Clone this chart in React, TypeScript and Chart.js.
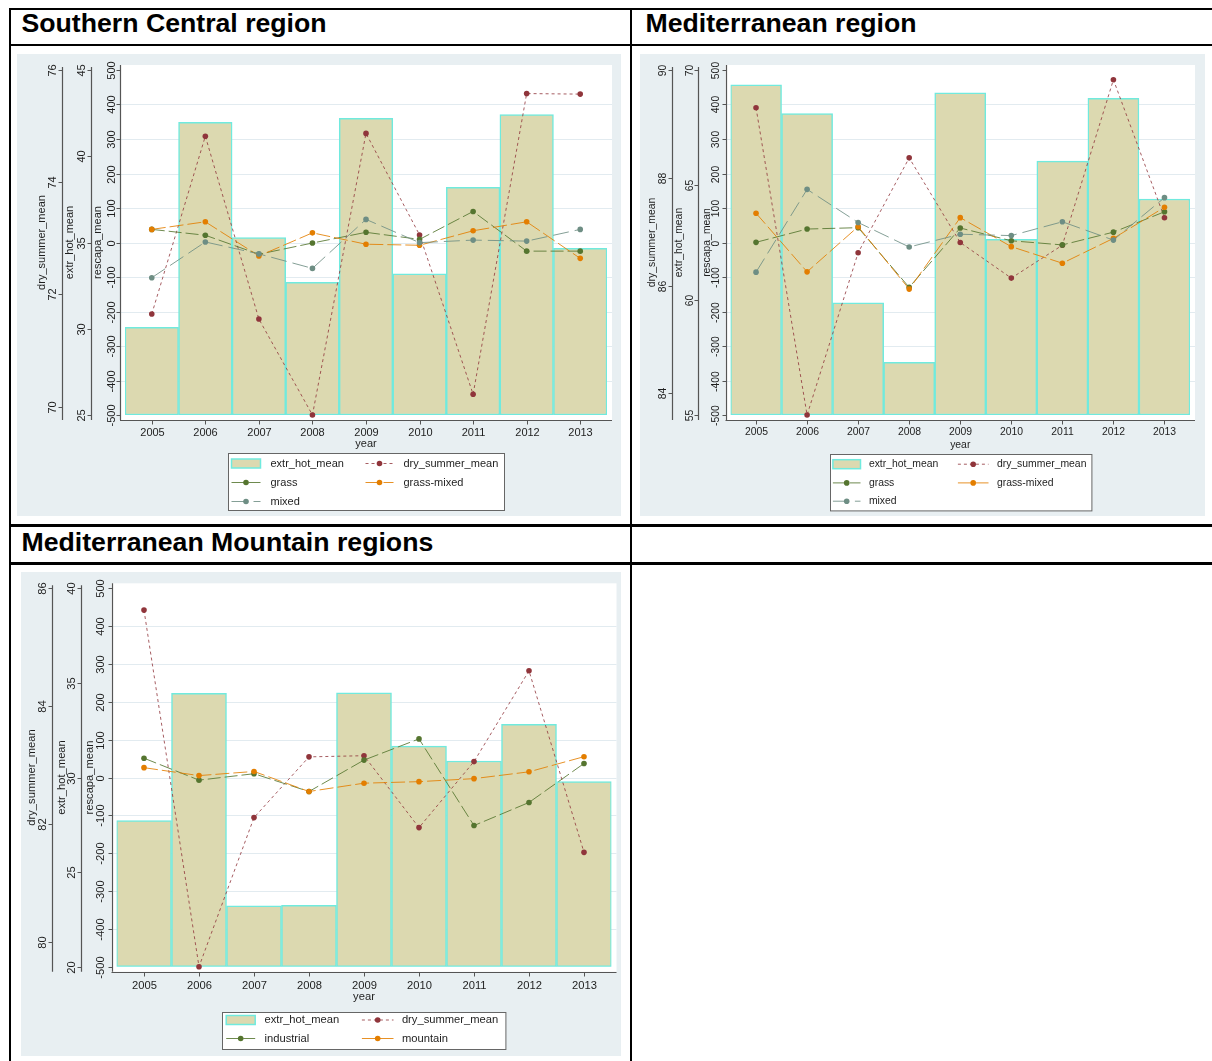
import React, { useEffect, useRef } from "react";
import { Chart, registerables } from "chart.js";

Chart.register(...registerables);

// ---------- data ----------
const years = ["2005", "2006", "2007", "2008", "2009", "2010", "2011", "2012", "2013"];
const rescapaTicks = [-500, -400, -300, -200, -100, 0, 100, 200, 300, 400, 500];
const rescapaGrid = [-400, -300, -200, -100, 0, 100, 200, 300, 400];
const rescapaRange = [-500, 500];

// Southern Central region
const scExtrHot = [30.08, 41.97, 35.28, 32.69, 42.2, 33.19, 38.2, 42.41, 34.66];
const scDrySummer = [71.65, 74.82, 71.56, 69.85, 74.87, 73.06, 70.22, 75.58, 75.57];
const scGrass = [38, 21, -34, -1.5, 29.5, 9, 90, -25, -25];
const scGrassMixed = [38, 60, -39, 28, -5, -8, 34, 60, -46];
const scMixed = [-102, 1.5, -33, -75, 67, -0.5, 7, 4, 38];
const scExtrTicks = [25, 30, 35, 40, 45];
const scDryTicks = [70, 72, 74, 76];
const scExtrRange = [25, 45];
const scDryRange = [69.85, 76];

// Mediterranean region
const medExtrHot = [69.35, 68.1, 59.88, 57.29, 69.01, 62.64, 66.04, 68.77, 64.39];
const medDrySummer = [89.3, 83.6, 86.61, 88.37, 86.8, 86.14, 86.75, 89.82, 87.26];
const medGrass = [0.5, 39, 43, -130, 42, 5, -7, 30, 89];
const medGrassMixed = [85, -85, 46, -135, 72, -12, -60, 12, 102];
const medMixed = [-86, 154, 58, -13, 24, 20, 60, 7, 130];
const medExtrTicks = [55, 60, 65, 70];
const medDryTicks = [84, 86, 88, 90];
const medExtrRange = [55, 70];
const medDryRange = [83.6, 90];

// Mediterranean Mountain regions
const mmExtrHot = [27.72, 34.45, 23.22, 23.25, 34.48, 31.66, 30.87, 32.81, 29.78];
const mmDrySummer = [85.63, 79.58, 82.11, 83.14, 83.16, 81.94, 83.06, 84.6, 81.52];
const mmIndustrial = [51, -7, 10, -37, 46, 102, -127, -66, 37];
const mmMountain = [26, 5, 16, -37, -15, -11, -3, 15, 55];
const mmExtrTicks = [20, 25, 30, 35, 40];
const mmDryTicks = [80, 82, 84, 86];
const mmExtrRange = [20, 40];
const mmDryRange = [79.58, 86];

// ---------- styles ----------
const FONT = '"Liberation Sans", Arial, Helvetica, sans-serif';
const GRAPH_BG = "rgb(232,239,242)";
const GRID = "rgb(226,235,240)";
const AXIS = "#555";
const TEXT = "#1e1e1e";
const BAR_FILL = "rgb(220,217,176)";
const BAR_EDGE = "rgb(112,234,222)";
const C_DRY = "rgb(144,53,59)";
const C_GREEN = "rgb(85,117,47)";
const C_ORANGE = "rgb(227,126,0)";
const C_TEAL = "rgb(110,142,132)";
const DASH_DRY = [3, 3];
const DASH_GREEN = [13, 4];
const DASH_ORANGE = [14, 4];
const DASH_TEAL = [16, 6];

function lineColor(c: string, a: number) {
  return c.replace("rgb(", "rgba(").replace(")", "," + a + ")");
}

type Series = { label: string; data: number[]; color: string; dash: number[]; axis: string; alpha: number };

const panels: any[] = [
  {
    key: "sc",
    font: 11,
    canvas: { left: 17, top: 54, width: 604, height: 462 },
    padding: { left: 108, right: 14, top: 16, bottom: 101 },
    extr: scExtrHot, extrRange: scExtrRange, extrTicks: scExtrTicks,
    dryRange: scDryRange, dryTicks: scDryTicks,
    series: [
      { label: "dry_summer_mean", data: scDrySummer, color: C_DRY, dash: DASH_DRY, axis: "y2", alpha: 0.8 },
      { label: "grass", data: scGrass, color: C_GREEN, dash: DASH_GREEN, axis: "y", alpha: 0.85 },
      { label: "grass-mixed", data: scGrassMixed, color: C_ORANGE, dash: DASH_ORANGE, axis: "y", alpha: 0.85 },
      { label: "mixed", data: scMixed, color: C_TEAL, dash: DASH_TEAL, axis: "y", alpha: 0.85 },
    ] as Series[],
    ax: { dry: [-63.3, -72, -83.3], extr: [-34, -43.3, -55], resc: [-5, -13.3, -26.7] },
    xLabelOff: 17.5, xTitleOff: 29,
    legend: { width: 276, top: 38, height: 57, rows: [10, 29, 48], col1: [3, 32, 42], col2: [137, 165, 175] },
  },
  {
    key: "med",
    font: 10.4,
    canvas: { left: 640, top: 54, width: 565, height: 462 },
    padding: { left: 90.5, right: 15, top: 16, bottom: 101 },
    extr: medExtrHot, extrRange: medExtrRange, extrTicks: medExtrTicks,
    dryRange: medDryRange, dryTicks: medDryTicks,
    series: [
      { label: "dry_summer_mean", data: medDrySummer, color: C_DRY, dash: DASH_DRY, axis: "y2", alpha: 0.8 },
      { label: "grass", data: medGrass, color: C_GREEN, dash: DASH_GREEN, axis: "y", alpha: 0.85 },
      { label: "grass-mixed", data: medGrassMixed, color: C_ORANGE, dash: DASH_ORANGE, axis: "y", alpha: 0.85 },
      { label: "mixed", data: medMixed, color: C_TEAL, dash: DASH_TEAL, axis: "y", alpha: 0.85 },
    ] as Series[],
    ax: { dry: [-58.8, -67.2, -78.8], extr: [-32.2, -40.5, -51.2], resc: [-5, -14.7, -23.8] },
    xLabelOff: 17.5, xTitleOff: 30,
    legend: { width: 261.4, top: 39.3, height: 56.4, rows: [9.7, 28.4, 46.7], col1: [2.4, 30, 38.4], col2: [127.4, 158, 166.4] },
  },
  {
    key: "mm",
    font: 11.2,
    canvas: { left: 21, top: 572, width: 600, height: 484 },
    padding: { left: 95.5, right: 9.5, top: 16.3, bottom: 89.3 },
    extr: mmExtrHot, extrRange: mmExtrRange, extrTicks: mmExtrTicks,
    dryRange: mmDryRange, dryTicks: mmDryTicks,
    series: [
      { label: "dry_summer_mean", data: mmDrySummer, color: C_DRY, dash: DASH_DRY, axis: "y2", alpha: 0.8 },
      { label: "industrial", data: mmIndustrial, color: C_GREEN, dash: DASH_GREEN, axis: "y", alpha: 0.85 },
      { label: "mountain", data: mmMountain, color: C_ORANGE, dash: DASH_ORANGE, axis: "y", alpha: 0.85 },
    ] as Series[],
    ax: { dry: [-64.2, -73.2, -84.8], extr: [-35.5, -44.8, -54.8], resc: [-5, -15.7, -26.5] },
    xLabelOff: 19.3, xTitleOff: 29.8,
    legend: { width: 283.4, top: 45, height: 37, rows: [7.5, 26], col1: [3.7, 32.7, 42], col2: [139.4, 171, 179.4] },
  },
];

function rotText(ctx: CanvasRenderingContext2D, text: string, x: number, y: number) {
  ctx.save();
  ctx.translate(x, y);
  ctx.rotate(-Math.PI / 2);
  ctx.textAlign = "center";
  ctx.textBaseline = "middle";
  ctx.fillText(text, 0, 0);
  ctx.restore();
}

function makePlugin(p: any) {
  const M = 5;
  return {
    id: "stataPanel_" + p.key,
    beforeDraw(chart: any) {
      const { ctx, chartArea: a, width, height } = chart;
      ctx.save();
      ctx.fillStyle = GRAPH_BG;
      ctx.fillRect(0, 0, width, height);
      ctx.fillStyle = "#fff";
      ctx.fillRect(a.left - M, a.top - M, a.right - a.left + 2 * M, a.bottom - a.top + 2 * M);
      const ys = chart.scales.y;
      ctx.strokeStyle = GRID;
      ctx.lineWidth = 1;
      for (const v of rescapaGrid) {
        const py = Math.round(ys.getPixelForValue(v)) + 0.5;
        ctx.beginPath();
        ctx.moveTo(a.left - M, py);
        ctx.lineTo(a.right + M, py);
        ctx.stroke();
      }
      ctx.restore();
    },
    afterDraw(chart: any) {
      const { ctx, chartArea: a } = chart;
      ctx.save();
      ctx.font = p.font + "px " + FONT;
      ctx.fillStyle = TEXT;
      ctx.strokeStyle = AXIS;
      ctx.lineWidth = 1;

      const yAxes = [
        { scale: chart.scales.y2, ticks: p.dryTicks, pos: p.ax.dry, title: "dry_summer_mean", top: a.top - 3, bottom: a.bottom + M },
        { scale: chart.scales.y1, ticks: p.extrTicks, pos: p.ax.extr, title: "extr_hot_mean", top: a.top - 3, bottom: a.bottom + M },
        { scale: chart.scales.y, ticks: rescapaTicks, pos: p.ax.resc, title: "rescapa_mean", top: a.top - M, bottom: a.bottom + M },
      ];
      const midY = (a.top + a.bottom) / 2;
      for (const ax of yAxes) {
        const lx = Math.round(a.left + ax.pos[0]) + 0.5;
        ctx.strokeStyle = AXIS;
        ctx.lineWidth = 1.2;
        ctx.beginPath();
        ctx.moveTo(lx, ax.top);
        ctx.lineTo(lx, ax.bottom);
        ctx.stroke();
        ctx.lineWidth = 1;
        for (const t of ax.ticks) {
          const py = Math.round(ax.scale.getPixelForValue(t)) + 0.5;
          ctx.beginPath();
          ctx.moveTo(lx, py);
          ctx.lineTo(lx - 4, py);
          ctx.stroke();
          rotText(ctx, String(t), a.left + ax.pos[1], py);
        }
        rotText(ctx, ax.title, a.left + ax.pos[2], midY);
      }

      // x axis
      const xs = chart.scales.x;
      const axY = Math.round(a.bottom + M) + 0.5;
      ctx.strokeStyle = AXIS;
      ctx.lineWidth = 1.2;
      ctx.beginPath();
      ctx.moveTo(a.left - M, axY);
      ctx.lineTo(a.right + M, axY);
      ctx.stroke();
      ctx.lineWidth = 1;
      ctx.textAlign = "center";
      ctx.textBaseline = "middle";
      years.forEach((yr, i) => {
        const px = Math.round(xs.getPixelForValue(i)) + 0.5;
        ctx.beginPath();
        ctx.moveTo(px, axY);
        ctx.lineTo(px, axY + 4);
        ctx.stroke();
        ctx.fillText(yr, px, a.bottom + p.xLabelOff);
      });
      const cx = (a.left + a.right) / 2;
      ctx.fillText("year", cx, a.bottom + p.xTitleOff);

      // legend
      const L = p.legend;
      const bx = Math.round(cx - L.width / 2) + 0.5;
      const by = Math.round(a.bottom + L.top) + 0.5;
      ctx.fillStyle = "#fff";
      ctx.fillRect(bx, by, L.width, L.height);
      ctx.strokeStyle = "#666";
      ctx.strokeRect(bx, by, L.width, L.height);
      const items: any[] = [{ kind: "bar", label: "extr_hot_mean" }].concat(
        p.series.map((s: Series) => ({ kind: "line", label: s.label, color: s.color, dash: s.dash, alpha: s.alpha }))
      );
      items.forEach((it, i) => {
        const row = Math.floor(i / 2);
        const col = i % 2 === 0 ? L.col1 : L.col2;
        const ry = by + L.rows[row];
        const x0 = bx + col[0];
        const x1 = bx + col[1];
        if (it.kind === "bar") {
          ctx.fillStyle = BAR_FILL;
          ctx.fillRect(x0, ry - 4.5, x1 - x0, 9);
          ctx.strokeStyle = BAR_EDGE;
          ctx.lineWidth = 1.5;
          ctx.strokeRect(x0, ry - 4.5, x1 - x0, 9);
          ctx.lineWidth = 1;
        } else {
          ctx.strokeStyle = lineColor(it.color, it.alpha);
          ctx.setLineDash(it.dash);
          ctx.beginPath();
          ctx.moveTo(x0, ry);
          ctx.lineTo(x1, ry);
          ctx.stroke();
          ctx.setLineDash([]);
          ctx.fillStyle = it.color;
          ctx.beginPath();
          ctx.arc((x0 + x1) / 2, ry, 2.8, 0, Math.PI * 2);
          ctx.fill();
        }
        ctx.fillStyle = TEXT;
        ctx.textAlign = "left";
        ctx.textBaseline = "middle";
        ctx.fillText(it.label, bx + col[2], ry);
      });
      ctx.restore();
    },
  };
}

function PanelChart({ p }: { p: any }) {
  const ref = useRef<HTMLCanvasElement | null>(null);
  useEffect(() => {
    if (!ref.current) return;
    const n = p.series.length;
    const datasets: any[] = [
      {
        type: "bar",
        label: "extr_hot_mean",
        data: p.extr,
        yAxisID: "y1",
        base: p.extrRange[0],
        backgroundColor: BAR_FILL,
        borderColor: BAR_EDGE,
        borderWidth: 1.5,
        borderSkipped: false,
        barPercentage: 1,
        categoryPercentage: 1,
        order: n + 1,
      },
    ];
    p.series.forEach((s: Series, i: number) => {
      datasets.push({
        type: "line",
        label: s.label,
        data: s.data,
        yAxisID: s.axis,
        borderColor: lineColor(s.color, s.alpha),
        borderWidth: 1,
        borderDash: s.dash,
        pointRadius: 2.8,
        pointHoverRadius: 2.8,
        pointBackgroundColor: s.color,
        pointBorderColor: s.color,
        pointBorderWidth: 0,
        fill: false,
        tension: 0,
        order: n - i,
        clip: false,
      });
    });
    const chart = new Chart(ref.current, {
      type: "bar",
      data: { labels: years, datasets },
      options: {
        animation: false,
        responsive: false,
        devicePixelRatio: 1,
        events: [],
        layout: { padding: p.padding },
        plugins: { legend: { display: false }, tooltip: { enabled: false } },
        scales: {
          x: { type: "category", offset: true, display: false },
          y: { type: "linear", min: rescapaRange[0], max: rescapaRange[1], display: false },
          y1: { type: "linear", min: p.extrRange[0], max: p.extrRange[1], display: false },
          y2: { type: "linear", min: p.dryRange[0], max: p.dryRange[1], display: false },
        },
      } as any,
      plugins: [makePlugin(p)],
    } as any);
    return () => chart.destroy();
  }, [p]);
  const c = p.canvas;
  return (
    <canvas
      ref={ref}
      width={c.width}
      height={c.height}
      style={{ position: "absolute", left: c.left, top: c.top, width: c.width, height: c.height }}
    />
  );
}

const line = (s: any) => <div style={{ position: "absolute", background: "#000", ...s }} />;

const headerStyle: any = {
  position: "absolute",
  fontFamily: FONT,
  fontWeight: "bold",
  fontSize: "20pt",
  lineHeight: 1,
  color: "#000",
  whiteSpace: "nowrap",
};

export default function App() {
  return (
    <div style={{ position: "absolute", left: 0, top: 0, width: 1212, height: 1061, background: "#fff", overflow: "hidden" }}>
      {line({ left: 9, top: 8, width: 1210, height: 2 })}
      {line({ left: 9, top: 8, width: 2, height: 1060 })}
      {line({ left: 630, top: 8, width: 2, height: 1060 })}
      {line({ left: 9, top: 44, width: 1210, height: 2 })}
      {line({ left: 9, top: 524, width: 1210, height: 2.5 })}
      {line({ left: 9, top: 562, width: 1210, height: 2.5 })}
      <div style={{ ...headerStyle, left: 21.5, top: 10.4 }}>Southern Central region</div>
      <div style={{ ...headerStyle, left: 645.5, top: 10.4 }}>Mediterranean region</div>
      <div style={{ ...headerStyle, left: 21.5, top: 528.6 }}>Mediterranean Mountain regions</div>
      {panels.map((p) => (
        <PanelChart key={p.key} p={p} />
      ))}
    </div>
  );
}
